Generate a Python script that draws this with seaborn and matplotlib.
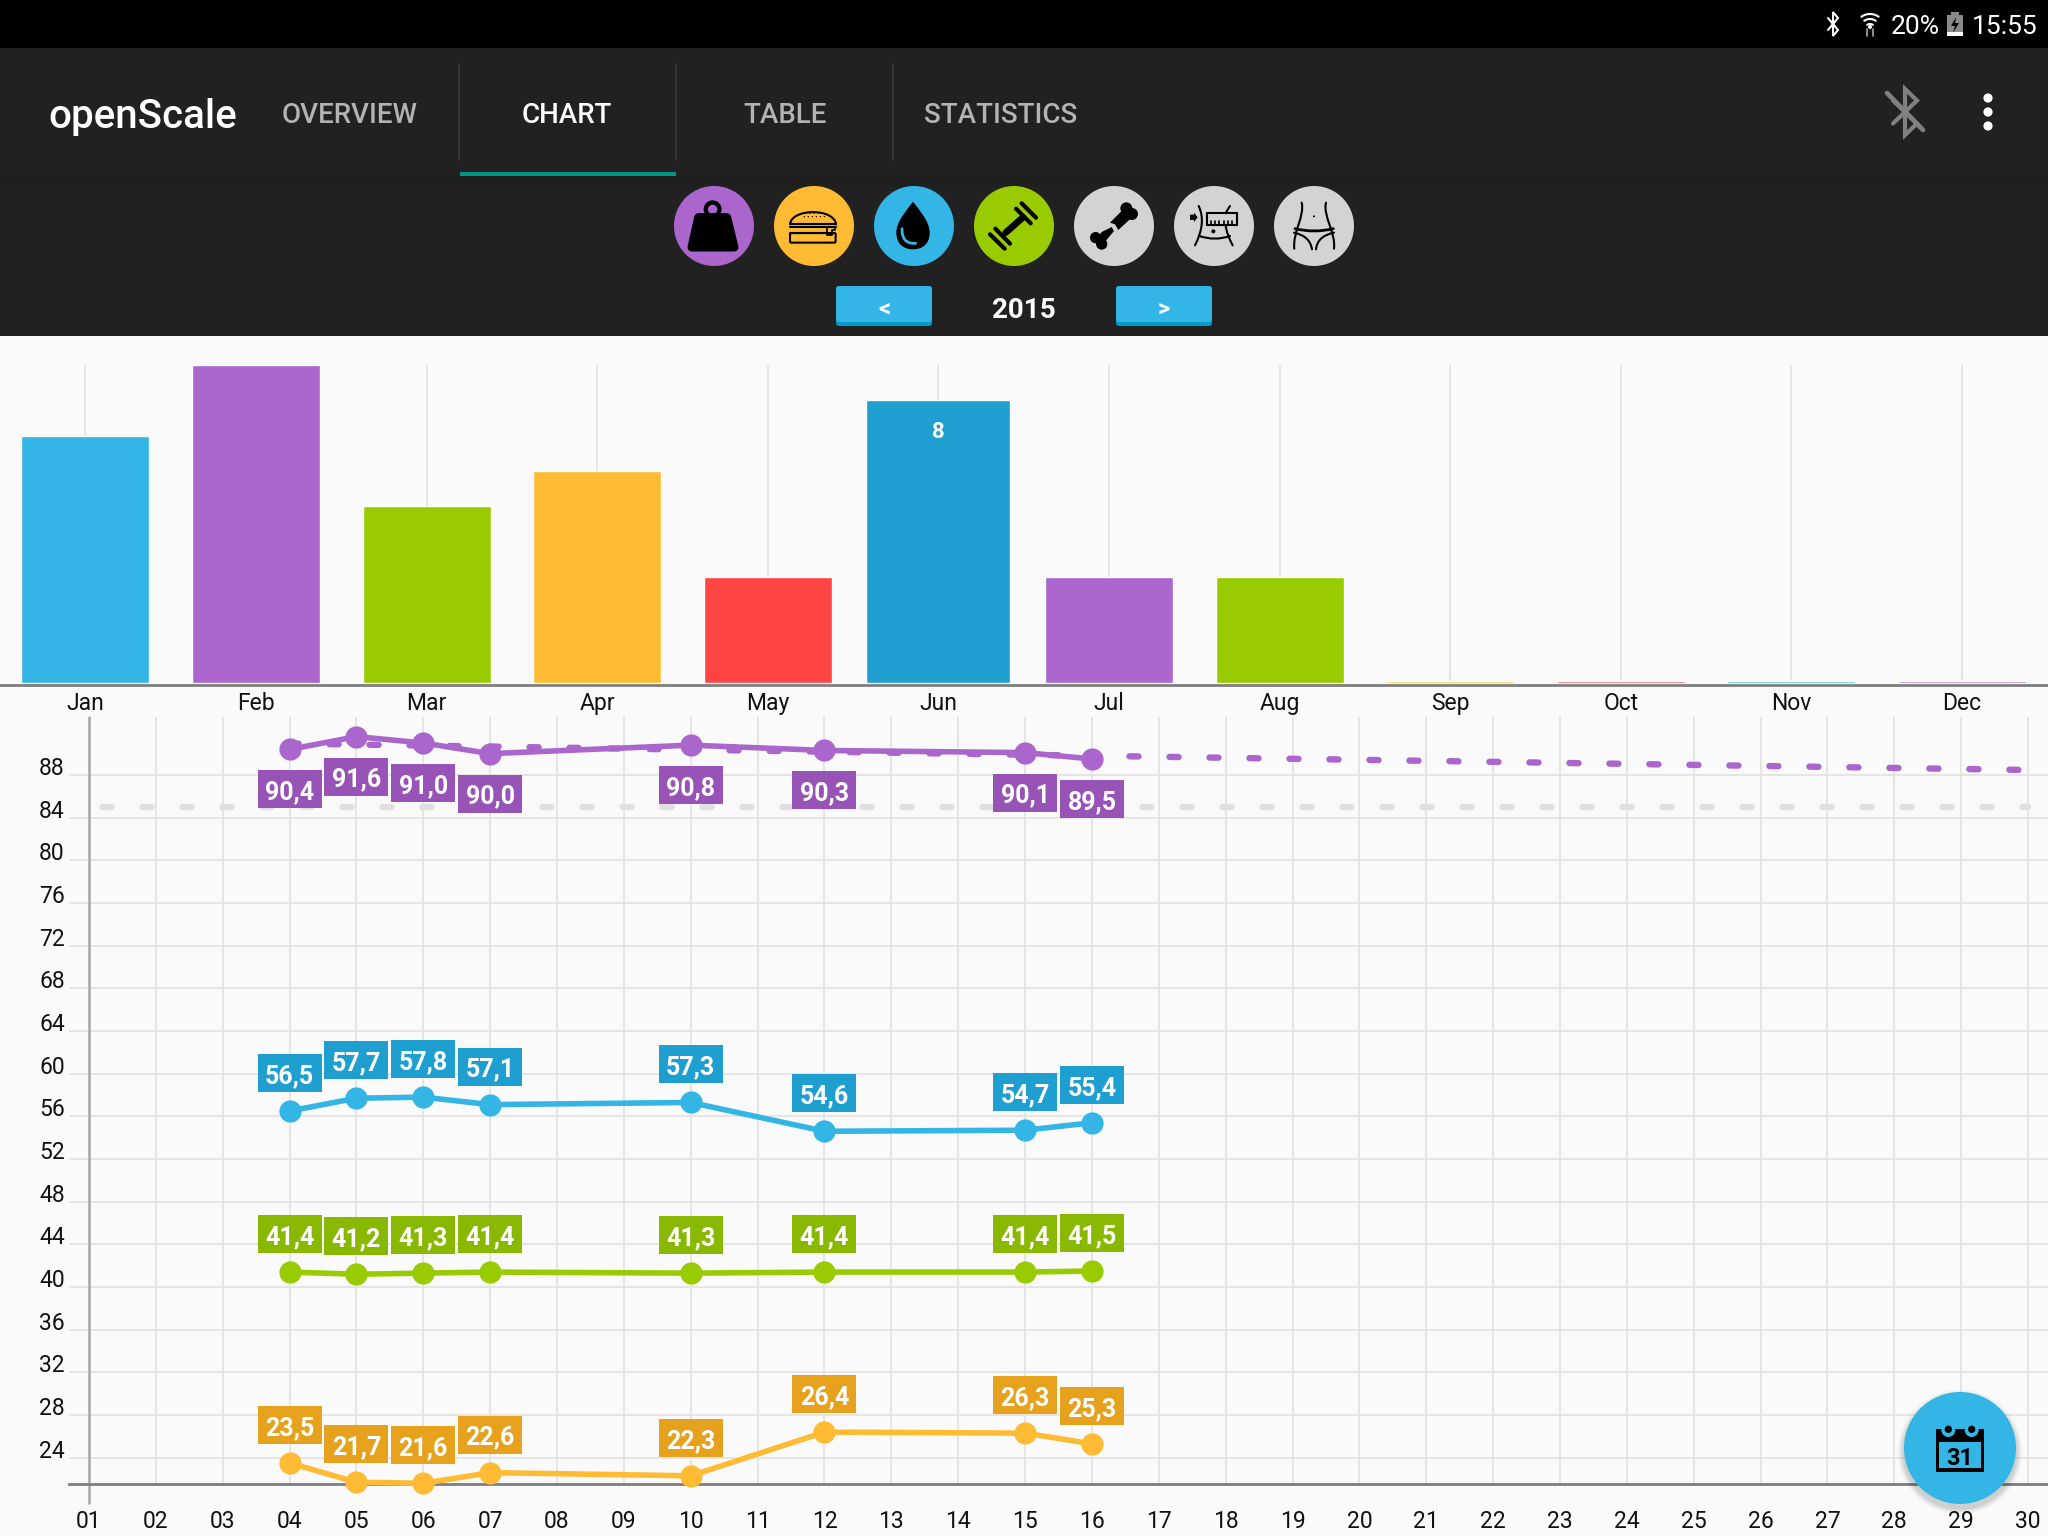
import numpy as np
import pandas as pd
import matplotlib
matplotlib.use("Agg")
import matplotlib.pyplot as plt
import seaborn as sns
from matplotlib.patches import Rectangle, Circle, Polygon, PathPatch, FancyBboxPatch
from matplotlib.path import Path
from matplotlib.transforms import ScaledTranslation

months = ["Jan", "Feb", "Mar", "Apr", "May", "Jun", "Jul", "Aug", "Sep", "Oct", "Nov", "Dec"]
month_counts = [7, 9, 5, 6, 3, 8, 3, 3, 0, 0, 0, 0]
month_colors = ["#33B5E5", "#AA66CC", "#99CC00", "#FFBB33", "#FF4444", "#1E9FCF",
                "#AA66CC", "#99CC00", "#FFBB33", "#FF4444", "#33B5E5", "#AA66CC"]
selected_month = "Jun"

day_labels = [f"{d:02d}" for d in range(1, 31)]
y_ticks = list(range(24, 92, 4))
days = [4, 5, 6, 7, 10, 12, 15, 16]
weight = [90.4, 91.6, 91.0, 90.0, 90.8, 90.3, 90.1, 89.5]
water = [56.5, 57.7, 57.8, 57.1, 57.3, 54.6, 54.7, 55.4]
muscle = [41.4, 41.2, 41.3, 41.4, 41.3, 41.4, 41.4, 41.5]
fat = [23.5, 21.7, 21.6, 22.6, 22.3, 26.4, 26.3, 25.3]
trend_days = [4, 30]
trend_values = [90.95, 88.47]
goal_days = [1, 30]
goal_values = [85.0, 85.0]

PURPLE, BLUE, GREEN, ORANGE = "#AA66CC", "#33B5E5", "#99CC00", "#FFBB33"
series = [
    (weight, PURPLE, "#9753B5", 40),
    (water, BLUE, "#1E9FCF", -38),
    (muscle, GREEN, "#88B800", -38),
    (fat, ORANGE, "#E6A21C", -38),
]

sns.set_theme(style="white")
plt.rcParams["font.family"] = ["Roboto", "DejaVu Sans"]
plt.rcParams["lines.scale_dashes"] = False

W, H = 2048, 1536
BG = "#FAFAFA"
GRID = "#E3E3E3"
fig = plt.figure(figsize=(W / 100, H / 100), dpi=100, facecolor=BG)


def axes_px(x0, y0, x1, y1, **kw):
    return fig.add_axes([x0 / W, 1 - y1 / H, (x1 - x0) / W, (y1 - y0) / H], **kw)


# ---------- monthly bar chart ----------
axb = axes_px(0, 365, W, 683, facecolor="none")
df_m = pd.DataFrame({"month": months, "count": month_counts})
sns.barplot(data=df_m, x="month", y="count", hue="month", palette=month_colors, width=0.75,
            dodge=False, legend=False, saturation=1, ax=axb, zorder=3)
axb.set_xlim(-0.5, 11.504)
axb.set_ylim(0, 9)
axb.set_xlabel("")
axb.set_ylabel("")
axb.set_yticks([])
axb.grid(axis="x", color=GRID, lw=1.2, zorder=0)
axb.set_axisbelow(True)
for s in ["top", "left", "right"]:
    axb.spines[s].set_visible(False)
axb.spines["bottom"].set_position(("outward", 1.2))
axb.spines["bottom"].set_color("#7E7E7E")
axb.spines["bottom"].set_linewidth(2.0)
axb.tick_params(axis="x", length=0, pad=5.6, labelsize=16.5, labelcolor="#111111")
for bar, name, cnt, col in zip(axb.patches, months, month_counts, month_colors):
    if name == selected_month:
        cx = bar.get_x() + bar.get_width() / 2
        w = bar.get_width() * 144 / 128
        bar.set_x(cx - w / 2)
        bar.set_width(w)
        axb.annotate(str(cnt), (cx, cnt), xytext=(0, -29 / 100 * 72), textcoords="offset points",
                     ha="center", va="center_baseline", color="white",
                     fontsize=16, fontweight="bold", zorder=5)
    if cnt == 0:
        # a month without entries still shows a hairline in its colour
        bar.set_height(0.07)

# ---------- daily line chart ----------
ax = axes_px(69, 717, W, 1484, facecolor="none")
ax.set_xlim(1 - 20 / 66.86, 30 + 20 / 66.86)
ax.set_ylim(88 - (1484 - 775) / 10.667, 88 + (775 - 717) / 10.667)
ax.grid(True, color=GRID, lw=1.3, zorder=0)
ax.set_axisbelow(True)
for s in ["top", "left", "right"]:
    ax.spines[s].set_visible(False)
ax.spines["bottom"].set_color("#7E7E7E")
ax.spines["bottom"].set_linewidth(2.0)
ax.set_xticks(range(1, 31))
ax.set_xticklabels(day_labels)
ax.set_yticks(y_ticks)
ax.tick_params(axis="x", length=13.7, width=1.3, color=GRID, pad=5, labelsize=16.5, labelcolor="#111111")
ax.tick_params(axis="y", length=0, pad=3, labelsize=16.5, labelcolor="#111111")
up = ScaledTranslation(0, 9 / 100, fig.dpi_scale_trans)
for lab in ax.get_yticklabels():
    lab.set_transform(lab.get_transform() + up)
ax.plot([1, 1], [-19 / 767, 1], transform=ax.get_xaxis_transform(), color="#A8A8A8",
        lw=1.8, clip_on=False, zorder=2)

sns.lineplot(x=goal_days, y=goal_values, color="#E0E0E0", linewidth=4.6,
             linestyle=(19.1, (6.5, 22.3)), dash_capstyle="round", ax=ax, errorbar=None, zorder=2)
sns.lineplot(x=trend_days, y=trend_values, color=PURPLE, linewidth=4.6,
             linestyle=(0, (6.5, 22.3)), dash_capstyle="round", ax=ax, errorbar=None, zorder=3)
for vals, col, dark, off in series:
    sns.lineplot(x=days, y=vals, color=col, linewidth=4.0, marker="o", markersize=16,
                 markeredgewidth=0, markeredgecolor=col, estimator=None, errorbar=None,
                 clip_on=False, ax=ax, zorder=4)
ax.set_xlabel("")
ax.set_ylabel("")
if ax.get_legend():
    ax.get_legend().remove()

# ---------- pixel overlay: value labels and app chrome ----------
ov = fig.add_axes([0, 0, 1, 1], facecolor="none", zorder=5)
ov.set_xlim(0, W)
ov.set_ylim(H, 0)
ov.axis("off")

for vals, col, dark, off in series:
    for d, v in zip(days, vals):
        px, py = ax.transData.transform((d, v))
        py = H - py + off
        ov.add_patch(Rectangle((px - 32, py - 19), 64, 38, fc=dark, ec="none"))
        ov.text(px, py + 0.5, f"{v:.1f}".replace(".", ","), color="white", fontsize=18,
                fontweight="bold", ha="center", va="center_baseline")

ov.add_patch(Rectangle((0, 0), W, 48, fc="black", ec="none"))
ov.add_patch(Rectangle((0, 48), W, 288, fc="#212121", ec="none"))
for i, a in enumerate(np.linspace(0.35, 0, 8)):
    ov.add_patch(Rectangle((0, 176 + i * 1.5), W, 1.5, fc="#161616", ec="none", alpha=a))
ov.add_patch(Rectangle((460, 172), 216, 4, fc="#009688", ec="none"))
for xd in [459, 676, 893]:
    ov.plot([xd, xd], [64, 160], color="#3A3A3A", lw=1.2)

ov.text(48, 113, "openScale", color="white", fontsize=29, fontweight="medium", va="center_baseline")
for t, x, c in [("OVERVIEW", 350, "#B3B3B3"), ("CHART", 567, "white"), ("TABLE", 785, "#B3B3B3"),
                ("STATISTICS", 1001, "#B3B3B3")]:
    ov.text(x, 112.5, t, color=c, fontsize=20, fontweight="medium", ha="center", va="center_baseline")
ov.text(1024, 307, "2015", color="white", fontsize=20, fontweight="bold", ha="center", va="center_baseline")

for x0, t in [(836, "<"), (1116, ">")]:
    ov.add_patch(FancyBboxPatch((x0 + 3, 289), 90, 34, boxstyle="round,pad=3", fc="#0099CC", ec="none"))
    ov.add_patch(FancyBboxPatch((x0 + 3, 289), 90, 30, boxstyle="round,pad=3", fc=BLUE, ec="none"))
    ov.text(x0 + 48, 307, t, color="white", fontsize=17, fontweight="bold", ha="center", va="center_baseline")

# status bar
ov.text(1915, 25, "20%", color="white", fontsize=19, ha="center", va="center_baseline")
ov.text(2037, 25, "15:55", color="white", fontsize=19, ha="right", va="center_baseline")


def bt(cx, cy, sx, sy, col, lw):
    pts = np.array([(-1, -.5), (1, .5), (0, 1), (0, -1), (1, -.5), (-1, .5)])
    ov.plot(cx + pts[:, 0] * sx, cy + pts[:, 1] * sy, color=col, lw=lw, solid_joinstyle="miter")


bt(1833, 24, 5, 12, "white", 1.5)
bt(1905, 112, 12, 23, "#808080", 3.0)
ov.plot([1887, 1923], [93, 130], color="#808080", lw=3.4)
for r in [5, 10, 15]:
    th = np.radians(np.linspace(235, 305, 20))
    ov.plot(1870 + r * np.cos(th), 29 + r * np.sin(th), color="white", lw=1.5)
ov.add_patch(Circle((1870, 27), 2, fc="white", ec="none"))
ov.plot([1867, 1867], [29, 36], color="#999999", lw=1.3)
ov.plot([1873, 1873], [29, 36], color="#999999", lw=1.3)
ov.add_patch(Rectangle((1947, 15), 16, 21, fc="#8A8A8A", ec="none"))
ov.add_patch(Rectangle((1951, 12), 8, 3, fc="#8A8A8A", ec="none"))
ov.add_patch(Rectangle((1947, 32), 16, 4, fc="white", ec="none"))
ov.add_patch(Polygon([(1956, 17), (1951, 26), (1955, 26), (1953, 33), (1959, 23), (1955, 23)], fc="black", ec="none"))
for y in [98, 112, 126]:
    ov.add_patch(Circle((1988, y), 4.6, fc="white", ec="none"))

# icon circles
for cx, col in [(714, PURPLE), (814, ORANGE), (914, BLUE), (1014, GREEN),
                (1114, "#D3D3D3"), (1214, "#D3D3D3"), (1314, "#D3D3D3")]:
    ov.add_patch(Circle((cx, 226), 40, fc=col, ec="none"))


def Za(p):
    return (659 + p[0] / 3, 176 + p[1] / 3)


def Zb(p):
    return (1060 + p[0] / 3, 176 + p[1] / 3)


def curve(Z, pts, lw=1.5, col="black", fill=None):
    pts = [Z(p) for p in pts]
    n = len(pts)
    if n == 3:
        codes = [Path.MOVETO, Path.CURVE3, Path.CURVE3]
    elif n == 4:
        codes = [Path.MOVETO, Path.CURVE4, Path.CURVE4, Path.CURVE4]
    else:
        codes = [Path.MOVETO] + [Path.LINETO] * (n - 1)
    ov.add_patch(PathPatch(Path(pts, codes), fc=fill or "none", ec=col, lw=lw, capstyle="round", joinstyle="round"))


def disc(Z, p, r, col="black"):
    ov.add_patch(Circle(Z(p), r / 3, fc=col, ec="none"))


def poly(Z, pts, col="black", lw=0):
    ov.add_patch(Polygon([Z(p) for p in pts], fc=col, ec=col, lw=lw, joinstyle="round"))


# weight
disc(Za, (161, 100), 27)
disc(Za, (161, 100), 14, PURPLE)
poly(Za, [(118, 124), (204, 124), (226, 214), (98, 214)], lw=6)
# burger
curve(Za, [(393, 145), (398, 96), (526, 96), (531, 145)], lw=1.5)
curve(Za, [(393, 145), (531, 145)], lw=1.5)
curve(Za, [(393, 153), (530, 153)], lw=1.5)
curve(Za, [(393, 170), (498, 170)], lw=1.5)
ov.add_patch(FancyBboxPatch(Za((397, 175)), 129 / 3, 21 / 3, boxstyle="round,pad=1.3", fc="none", ec="black", lw=1.5))
curve(Za, [(505, 155), (505, 177), (518, 177), (518, 162), (528, 162), (528, 155)], lw=1.3)
for zx in range(430, 500, 12):
    disc(Za, (zx, 112), 2)
    disc(Za, (zx + 6, 122), 2)
# drop
ov.add_patch(PathPatch(Path([Za(p) for p in [(762, 77), (745, 100), (712, 135), (712, 170),
                                             (712, 205), (735, 220), (762, 220),
                                             (789, 220), (812, 205), (812, 170),
                                             (812, 135), (779, 100), (762, 77)]],
                            [Path.MOVETO] + [Path.CURVE4] * 12), fc="black", ec="none"))
curve(Za, [(729, 158), (728, 205), (770, 202)], lw=2.0, col=BLUE)
# dumbbell
curve(Za, [(1040, 170), (1092, 124)], lw=4.8)
for a, b in [((1071, 98), (1115, 142)), ((1088, 82), (1131, 125)), ((993, 175), (1037, 218)), ((1009, 158), (1053, 203))]:
    curve(Za, [a, b], lw=3.0)
# bone
poly(Zb, [(150, 140), (190, 100), (215, 125), (175, 162), (165, 145)])
disc(Zb, (199, 97), 18)
disc(Zb, (216, 114), 18)
poly(Zb, [(125, 168), (155, 153), (162, 165), (137, 195), (110, 190)])
disc(Zb, (107, 185), 17)
disc(Zb, (125, 204), 17)
# waist
poly(Zb, [(390, 116), (402, 116), (402, 110), (413, 124), (402, 138), (402, 132), (390, 132)])
ov.add_patch(Rectangle(Zb((442, 112)), 30, 12, fc="none", ec="black", lw=1.5))
for zx in range(452, 530, 13):
    curve(Zb, [(zx, 134), (zx, 147)], lw=1.2)
curve(Zb, [(416, 90), (440, 140), (405, 208)], lw=1.5)
curve(Zb, [(510, 90), (503, 100), (497, 112)], lw=1.5)
curve(Zb, [(497, 148), (500, 175), (518, 208)], lw=1.5)
curve(Zb, [(418, 180), (465, 196), (510, 180)], lw=1.5)
disc(Zb, (460, 166), 6)
# hips
curve(Zb, [(725, 80), (735, 120), (697, 170), (703, 218)], lw=1.5)
curve(Zb, [(798, 80), (788, 120), (828, 170), (822, 218)], lw=1.5)
curve(Zb, [(705, 158), (762, 172), (820, 158)], lw=2.0)
curve(Zb, [(702, 170), (750, 180), (756, 220)], lw=1.5)
curve(Zb, [(822, 170), (772, 180), (768, 220)], lw=1.5)
disc(Zb, (762, 121), 3)

# calendar button
for r, a in zip([62, 60, 58], [0.04, 0.06, 0.08]):
    ov.add_patch(Circle((1960, 1452), r, fc="black", ec="none", alpha=a))
ov.add_patch(Circle((1960, 1448), 56, fc=BLUE, ec="none"))


def Zc(p):
    return (1800 + p[0] / 3, 1340 + p[1] / 3)


ov.add_patch(Rectangle(Zc((408, 268)), 48, 42.3, fc="black", ec="none"))
ov.add_patch(Rectangle(Zc((418, 305)), 41.3, 26.7, fc=BLUE, ec="none"))
for zx in [445, 515]:
    disc(Zc, (zx, 270), 21, BLUE)
    disc(Zc, (zx, 268), 11)
cx3, cy3 = Zc((480, 347))
ov.text(cx3, cy3, "31", color="black", fontsize=17, fontweight="bold", ha="center", va="center_baseline")

fig.savefig("out.png", dpi=100, facecolor=BG)
